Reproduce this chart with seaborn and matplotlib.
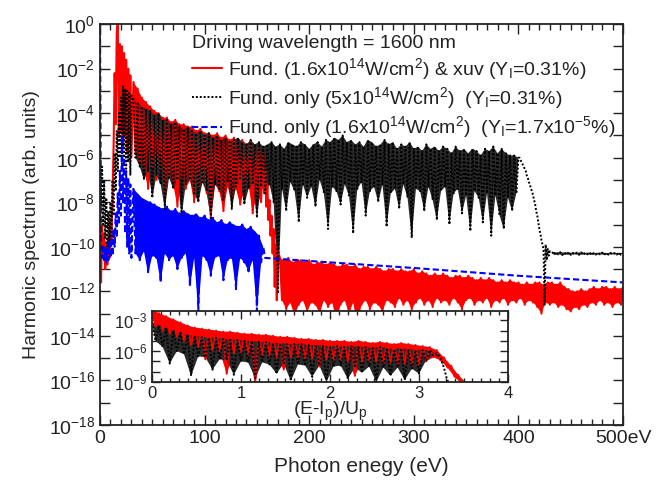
import numpy as np
import matplotlib
matplotlib.use('Agg')
import matplotlib.pyplot as plt
import seaborn as sns
from matplotlib.ticker import MultipleLocator, NullLocator

# ---- data (log10 of harmonic yield) ----
# hi / lo lists are alternating maxima and minima of the spiky spectra

# Fund. + xuv (red)
red_onset = [-7.0, -11.6, -9.0, -10.5, -9.4, -11.0, -9.8, -10.8, -9.6, -10.5,
             -8.8, -9.6, -7.5, -5.5, -2.2, -4.5, -0.4, 0.1, -5.0, -0.9,
             -4.8, -1.0, -5.5, -1.3, -5.0, -1.6, -5.8, -2.0, -5.4, -2.3, -6.0]
red_plateau_hi = [-2.6, -2.9, -3.3, -3.5, -3.7, -3.9, -4.0, -4.2, -4.2, -4.4,
                  -4.3, -4.5, -4.5, -4.6, -4.6, -4.8, -4.7, -4.9, -4.9, -5.0,
                  -4.9, -5.1, -5.0, -5.2, -5.1, -5.3, -5.2, -5.4, -5.3, -5.5,
                  -5.6, -5.8]
red_plateau_lo = [-5.8, -6.2, -6.5, -7.4, -6.4, -7.0, -6.6, -7.8, -6.8, -7.2,
                  -8.2, -6.9, -7.4, -7.0, -8.0, -7.3, -7.1, -7.6, -8.7, -7.2,
                  -7.5, -8.4, -7.3, -7.8, -7.4, -8.1, -7.5, -7.2, -8.5, -7.6,
                  -8.0]
red_cutoff = [-7.6, -6.6, -8.2, -7.2, -8.8, -7.9, -9.5, -8.6, -10.3, -9.2,
              -11.8, -9.9, -12.4, -10.2]
red_tail_hi = [-10.5, -10.6, -10.5, -10.7, -10.6, -10.6, -10.7, -10.6, -10.8, -10.7,
               -10.7, -10.8, -10.7, -10.8, -10.9, -10.8, -10.8, -10.9, -10.8, -11.0,
               -10.9, -10.9, -11.0, -10.9, -11.0, -11.1, -11.0, -11.0, -11.1, -11.0,
               -11.1, -11.1, -11.0, -11.2, -11.1, -11.2, -11.3, -11.2, -11.3, -11.2,
               -11.3, -11.4, -11.3, -11.3, -11.4, -11.3, -11.4, -11.5, -11.4, -11.5,
               -11.4, -11.5, -11.6, -11.5, -11.6, -11.5, -11.6, -11.6, -11.7, -11.6,
               -11.7, -11.6, -11.6, -11.7, -11.6, -11.6, -11.7, -11.6, -11.8, -11.9,
               -12.0, -12.0, -11.9, -12.0, -11.9, -11.8, -11.9, -11.8, -11.8, -11.9,
               -11.8, -11.9, -11.8]
red_tail_lo = [-12.4, -12.8, -12.5, -13.1, -12.6, -12.4, -12.9, -12.5, -12.6, -13.0,
               -12.4, -12.7, -12.5, -13.3, -12.6, -12.4, -13.0, -12.5, -13.5, -12.6,
               -12.4, -12.8, -12.5, -12.6, -12.9, -12.4, -12.5, -12.7, -12.3, -12.6,
               -12.4, -12.8, -12.5, -12.3, -12.6, -12.4, -12.7, -12.3, -12.5, -12.4,
               -12.6, -12.3, -12.5, -12.8, -12.4, -12.3, -12.6, -12.4, -12.5, -12.3,
               -12.7, -12.4, -12.5, -12.3, -12.6, -12.4, -12.5, -12.3, -12.6, -12.4,
               -12.5, -12.7, -13.0, -12.5, -12.6, -12.5, -12.7, -12.6, -12.8, -12.9,
               -12.7, -12.8, -12.6, -12.7, -12.5, -12.6, -12.4, -12.6, -12.5, -12.7,
               -12.5, -12.6]

# Fund. only 5e14 (black, dotted)
blk_onset = [-5.6, -8.2, -6.4, -9.0, -7.0, -9.6, -7.8, -10.0, -8.4, -10.3,
             -8.0, -9.6, -7.0, -8.6, -5.8, -7.5, -4.8, -6.6, -4.0, -6.0,
             -3.3, -6.3, -2.8, -6.0, -2.9, -6.5, -3.0, -6.2, -3.1, -6.8, -3.2]
blk_plateau_hi = [-3.4, -3.5, -3.7, -3.8, -3.9, -4.1, -4.0, -4.3, -4.3, -4.5,
                  -4.4, -4.6, -4.7, -4.6, -4.8, -4.9, -4.8, -5.0, -4.9, -5.1,
                  -5.0, -5.2, -5.1, -5.3, -5.2, -5.1, -5.3, -5.4, -5.2, -5.4,
                  -5.3, -5.5, -5.4, -5.3, -5.5, -5.4, -5.6, -5.3, -5.4, -5.5,
                  -5.3, -5.4, -5.6, -5.4, -5.3, -5.5, -5.2, -5.3, -5.1, -5.2,
                  -5.0, -5.3, -5.2, -5.4, -5.3, -5.5, -5.2, -5.3, -5.5, -5.4,
                  -5.2, -5.4, -5.3, -5.6, -5.4, -5.5, -5.3, -5.6, -5.5, -5.7,
                  -5.4, -5.6, -5.5, -5.7, -5.5, -5.6, -5.8, -5.5, -5.7, -5.6,
                  -5.8, -5.6, -5.7, -5.9, -5.6, -5.7, -5.5, -5.8, -5.6, -5.8,
                  -5.9, -5.9, -6.0]
blk_plateau_lo = [-6.0, -6.4, -7.0, -6.6, -7.8, -6.8, -7.2, -8.3, -6.9, -7.4,
                  -7.0, -8.6, -7.2, -7.0, -7.6, -8.0, -7.1, -7.5, -8.8, -7.2,
                  -7.4, -7.9, -7.1, -8.3, -7.3, -7.0, -8.1, -7.4, -7.2, -8.7,
                  -7.3, -7.6, -7.2, -8.0, -12.1, -7.4, -8.4, -7.1, -7.5, -8.9,
                  -7.2, -7.8, -7.3, -8.2, -7.0, -7.6, -9.2, -7.3, -7.5, -8.1,
                  -7.2, -7.7, -9.4, -7.4, -7.1, -8.6, -7.5, -7.3, -8.0, -7.2,
                  -9.1, -7.6, -7.4, -8.3, -7.2, -7.8, -9.6, -7.4, -7.5, -8.4,
                  -7.3, -7.9, -8.8, -7.5, -7.3, -9.0, -7.6, -7.4, -8.5, -7.7,
                  -9.3, -7.5, -7.8, -8.9, -7.6, -9.5, -7.7, -8.6, -9.2, -7.8,
                  -8.4, -7.6]
blk_cutoff = [-6.0, -6.1, -6.2, -6.3, -6.4, -6.5, -6.6, -6.8, -6.9, -7.1,
              -7.2, -7.4, -7.5, -7.7, -7.9, -8.1, -8.4, -8.6, -8.9, -9.2,
              -9.4, -9.7, -9.9, -10.1, -12.6, -9.9, -10.6, -10.1, -10.4, -10.2]
blk_tail_hi = [-10.22, -10.25, -10.24, -10.26, -10.25, -10.27, -10.26, -10.25, -10.27,
               -10.26, -10.28, -10.27, -10.26, -10.28, -10.27, -10.28, -10.27, -10.28]
blk_tail_lo = [-10.36, -10.34, -10.37, -10.35, -10.36, -10.34, -10.36, -10.35, -10.34,
               -10.36, -10.35, -10.34, -10.36, -10.35, -10.34, -10.35, -10.36]

# Fund. only 1.6e14 (blue, dashed)
blu_onset = [0.2, -10.0, -10.5, -9.9, -10.6, -10.0, -10.7, -10.1, -10.6, -9.8,
             -10.5, -9.6, -10.4, -9.2, -10.0, -8.5, -9.6, -7.6, -9.0, -6.6,
             -8.6, -5.0, -8.0, -6.0, -9.4, -6.6, -10.0, -6.9, -10.3, -7.2, -10.5]
blu_plateau_hi = [-7.4, -7.6, -7.8, -7.9, -8.0, -8.1, -8.2, -8.3, -8.2, -8.4,
                  -8.3, -8.5, -8.4, -8.5, -8.6, -8.5, -8.7, -8.6, -8.8, -8.7,
                  -8.9, -8.8, -9.0, -8.9, -9.0, -9.1, -9.0, -9.2, -9.1, -9.3,
                  -9.5, -10.0]
blu_plateau_lo = [-10.3, -10.6, -10.2, -11.2, -10.4, -10.5, -11.6, -10.3, -10.6, -10.4,
                  -11.0, -10.5, -10.3, -11.8, -10.5, -12.9, -10.4, -10.6, -11.3, -10.5,
                  -10.4, -11.5, -10.6, -10.5, -11.9, -10.5, -10.7, -11.1, -10.6, -12.9,
                  -10.7]
blu_tail_ev = [158, 220, 300, 400, 500]
blu_tail = [-10.5, -10.7, -10.95, -11.3, -11.6]

# inset, x in units of (E - Ip)/Up
ins_red_hi = [-2.0, -2.3, -2.6, -2.9, -3.2, -3.5, -3.7, -3.8, -3.9, -4.0,
              -4.1, -4.1, -4.2, -4.3, -4.3, -4.4, -4.4, -4.5, -4.6, -4.6,
              -4.7, -4.8, -4.8, -4.9, -4.9, -5.0, -5.0, -5.0, -5.1, -5.0,
              -5.1, -5.2, -5.1, -5.2, -5.3, -5.2, -5.3, -5.4, -5.5, -5.6,
              -5.9, -6.6, -7.4, -8.3, -9.0]
ins_red_lo = [-3.6, -4.0, -4.3, -4.6, -5.0, -5.4, -5.6, -6.8, -5.9, -6.0,
              -8.2, -6.2, -6.1, -6.3, -9.0, -6.4, -6.5, -6.6, -7.8, -6.6,
              -6.7, -6.8, -6.7, -7.5, -6.8, -6.9, -6.9, -7.0, -8.4, -7.0,
              -7.1, -7.0, -7.2, -7.1, -7.3, -7.2, -7.4, -7.3, -7.0, -6.6,
              -6.9, -7.6, -8.5, -9.2]
ins_blk_hi = [-3.2, -3.5, -3.8, -4.0, -4.2, -4.4, -4.5, -4.6, -4.7, -4.7,
              -4.8, -4.9, -4.9, -5.0, -5.0, -5.1, -5.1, -5.2, -5.2, -5.3,
              -5.3, -5.3, -5.4, -5.4, -5.5, -5.5, -5.5, -5.6, -5.5, -5.6,
              -5.6, -5.7, -5.6, -5.7, -5.8, -5.7, -5.8, -5.9, -5.9, -5.9,
              -6.2, -7.6]
ins_blk_lo = [-5.0, -5.6, -7.2, -6.0, -6.3, -8.4, -6.5, -6.6, -7.8, -6.8,
              -6.9, -8.3, -7.0, -7.1, -8.6, -7.1, -7.3, -8.2, -7.2, -8.9,
              -7.3, -7.4, -8.5, -7.4, -9.0, -7.5, -7.4, -8.7, -7.6, -8.1,
              -7.5, -9.0, -7.6, -8.4, -7.6, -8.8, -7.7, -8.2, -6.9, -6.4,
              -6.6]
ins_blk_end_x = [3.31, 3.34]
ins_blk_end = [-8.6, -9.3]


def segment(start, step, hi, lo=None):
    """alternate maxima and minima on a regular energy grid"""
    if lo is None:
        vals = np.asarray(hi, dtype=float)
    else:
        vals = np.empty(len(hi) + len(lo))
        vals[0::2] = hi
        vals[1::2] = lo
    x = start + step * np.arange(len(vals))
    return x, vals


def join(*segs):
    x = np.concatenate([s[0] for s in segs])
    y = np.concatenate([s[1] for s in segs])
    return x, 10.0 ** y


def band(ax, start, step, hi, lo, color):
    """fill the dense core between the maxima and the minima"""
    x_hi = start + 2 * step * np.arange(len(hi))
    x_lo = start + step + 2 * step * np.arange(len(lo))
    px = np.r_[x_hi, x_lo[::-1]]
    py = 10.0 ** np.r_[hi, lo[::-1]]
    ax.fill(px, py, color=color, lw=0)


red_x, red_y = join(segment(0, 1, red_onset),
                    segment(32, 2, red_plateau_hi, red_plateau_lo),
                    segment(157, 1, red_cutoff),
                    segment(172, 2, red_tail_hi, red_tail_lo))
blk_x, blk_y = join(segment(0, 1, blk_onset),
                    segment(32, 2, blk_plateau_hi, blk_plateau_lo),
                    segment(401, 1, blk_cutoff),
                    segment(432, 2, blk_tail_hi, blk_tail_lo))
blu_x, blu_y = join(segment(0, 1, blu_onset),
                    segment(32, 2, blu_plateau_hi, blu_plateau_lo),
                    (np.array(blu_tail_ev, float), np.array(blu_tail)))
ired_x, ired_y = join(segment(0, 0.04, ins_red_hi, ins_red_lo))
iblk_x, iblk_y = join(segment(0, 0.04, ins_blk_hi, ins_blk_lo),
                      (np.array(ins_blk_end_x), np.array(ins_blk_end)))

# ---- style ----
sns.set_theme(style='ticks')
plt.rcParams['font.family'] = ['Liberation Sans', 'DejaVu Sans']
plt.rcParams['mathtext.fontset'] = 'custom'
plt.rcParams['mathtext.rm'] = 'Liberation Sans'
plt.rcParams['mathtext.it'] = 'Liberation Sans:italic'
plt.rcParams['mathtext.bf'] = 'Liberation Sans:bold'
plt.rcParams['axes.edgecolor'] = '#222222'
plt.rcParams['text.color'] = '#222222'
plt.rcParams['xtick.color'] = '#222222'
plt.rcParams['ytick.color'] = '#222222'

RED, BLUE, DOTS = '#ff0000', '#0000ff', '#2a2a2a'

fig = plt.figure(figsize=(6.68, 4.86), dpi=100)
ax = fig.add_axes([0.1497, 0.1255, 0.783, 0.825])
ax.set_yscale('log')

band(ax, 32, 2, red_plateau_hi, red_plateau_lo, RED)
band(ax, 172, 2, red_tail_hi, red_tail_lo, RED)
sns.lineplot(x=red_x, y=red_y, ax=ax, color=RED, linewidth=1.5,
             estimator=None, sort=False,
             label=r'Fund. (1.6x10$^{\mathrm{14}}$W/cm$^{\mathrm{2}}$) & xuv (Y$_{\mathrm{I}}$=0.31%)')
band(ax, 32, 2, blk_plateau_hi, blk_plateau_lo, DOTS)
band(ax, 432, 2, blk_tail_hi, blk_tail_lo, DOTS)
sns.lineplot(x=blk_x, y=blk_y, ax=ax, color='black', linewidth=1.4, linestyle=(0, (1, 1)),
             estimator=None, sort=False,
             label=r'Fund. only (5x10$^{\mathrm{14}}$W/cm$^{\mathrm{2}}$)  (Y$_{\mathrm{I}}$=0.31%)')
band(ax, 32, 2, blu_plateau_hi, blu_plateau_lo, BLUE)
sns.lineplot(x=blu_x, y=blu_y, ax=ax, color=BLUE, linewidth=1.5, linestyle=(0, (3, 1.5)),
             estimator=None, sort=False,
             label=r'Fund. only (1.6x10$^{\mathrm{14}}$W/cm$^{\mathrm{2}}$)  (Y$_{\mathrm{I}}$=1.7x10$^{\mathrm{-5}}$%)')

ax.set_xlim(0, 500)
ax.set_ylim(1e-18, 1.0)
ax.set_yticks([10.0 ** -k for k in range(19)])
ax.set_yticklabels([r'$\mathregular{10^{%d}}$' % -k if k % 2 == 0 else '' for k in range(19)])
ax.yaxis.set_minor_locator(NullLocator())
ax.set_xticks([0, 100, 200, 300, 400, 500])
ax.set_xticklabels(['0', '100', '200', '300', '400', '500eV'])
ax.xaxis.set_minor_locator(MultipleLocator(10))
ax.tick_params(which='both', direction='in', top=True, right=True, labelsize=14, width=1.0)
ax.tick_params(which='major', length=7)
ax.tick_params(which='minor', length=4)
for s in ax.spines.values():
    s.set_linewidth(1.3)
ax.set_xlabel('Photon enegy (eV)', fontsize=15, labelpad=7)
ax.set_ylabel('Harmonic spectrum (arb. units)', fontsize=14, labelpad=6)

ax.legend(title='Driving wavelength = 1600 nm', loc='upper left',
          bbox_to_anchor=(0.175, 0.972), frameon=False, fontsize=14, title_fontsize=14,
          handlelength=1.55, handletextpad=0.35, labelspacing=0.18, borderaxespad=0,
          borderpad=0, alignment='left')

# ---- inset ----
axi = fig.add_axes([0.2275, 0.214, 0.533, 0.146])
axi.set_facecolor('white')
axi.set_yscale('log')
band(axi, 0, 0.04, ins_red_hi, ins_red_lo, RED)
sns.lineplot(x=ired_x, y=ired_y, ax=axi, color=RED, linewidth=1.4,
             estimator=None, sort=False)
band(axi, 0, 0.04, ins_blk_hi, ins_blk_lo, DOTS)
sns.lineplot(x=iblk_x, y=iblk_y, ax=axi, color='black', linewidth=1.4, linestyle=(0, (1, 1)),
             estimator=None, sort=False)
axi.set_xlim(0, 4)
axi.set_ylim(1e-9, 10 ** -2.1)
axi.set_yticks([10.0 ** -k for k in range(3, 10)])
axi.set_yticklabels([r'$\mathregular{10^{%d}}$' % -k if k % 3 == 0 else '' for k in range(3, 10)])
axi.yaxis.set_minor_locator(NullLocator())
axi.set_xticks([0, 1, 2, 3, 4])
axi.xaxis.set_minor_locator(MultipleLocator(0.1))
axi.tick_params(which='both', direction='in', top=True, right=True, labelsize=12, width=1.0, pad=3)
axi.tick_params(which='major', length=6)
axi.tick_params(which='minor', length=3)
for s in axi.spines.values():
    s.set_linewidth(1.3)
axi.set_xlabel(r'(E-I$_{\mathrm{p}}$)/U$_{\mathrm{p}}$', fontsize=14, labelpad=-1)

fig.savefig('out.png', dpi=100)
